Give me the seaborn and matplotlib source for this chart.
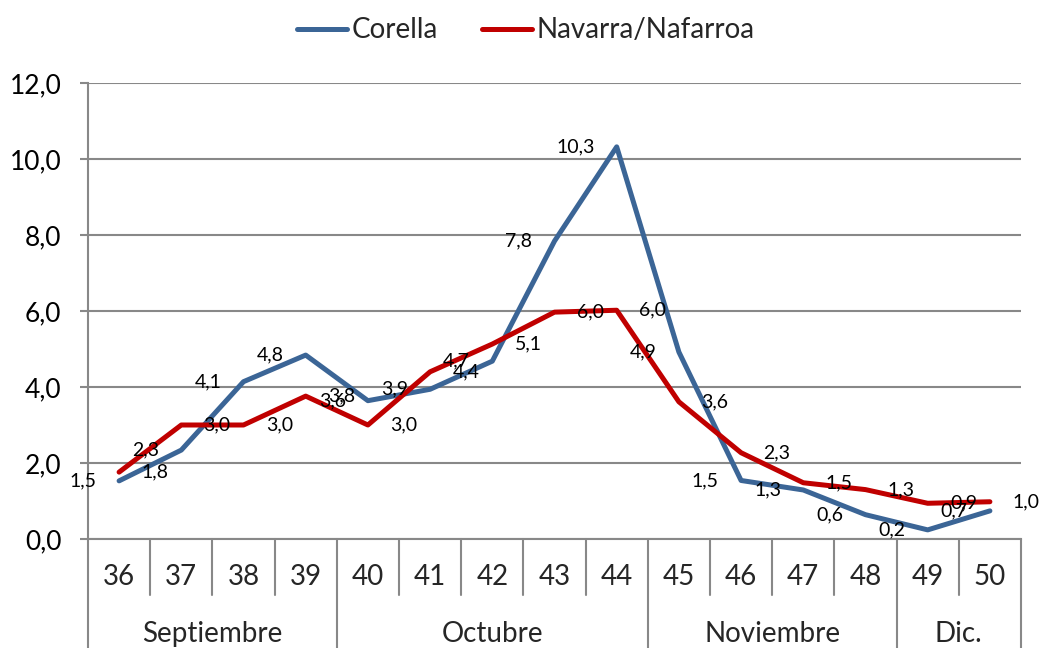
import matplotlib
matplotlib.use("Agg")
import matplotlib.pyplot as plt
import seaborn as sns
import numpy as np
from matplotlib.lines import Line2D
from matplotlib.ticker import FuncFormatter, MultipleLocator

# == DATA ==
weeks = ["36", "37", "38", "39", "40", "41", "42", "43", "44", "45", "46", "47", "48", "49", "50"]
months = ["Septiembre", "Octubre", "Noviembre", "Dic."]
month_spans = [4, 5, 4, 2]  # number of weeks in each month

corella = [1.53, 2.34, 4.14, 4.84, 3.64, 3.94, 4.68, 7.84, 10.32, 4.92, 1.54, 1.29, 0.64, 0.24, 0.74]
navarra = [1.76, 3.0, 3.0, 3.76, 3.0, 4.4, 5.13, 5.97, 6.02, 3.61, 2.27, 1.48, 1.3, 0.94, 0.98]

series_names = ["Corella", "Navarra/Nafarroa"]
BLUE = "#3B6596"
RED = "#C00000"
GRID = "#888888"

sns.set_style("white")
plt.rcParams["font.family"] = ["Lato", "DejaVu Sans"]


def fmt(v):
    return f"{v:.1f}".replace(".", ",")


x = np.arange(len(weeks))

fig = plt.figure(figsize=(10.41, 6.48), dpi=100)
ax = fig.add_axes([88 / 1041, 109 / 648, 933 / 1041, 456 / 648])

sns.lineplot(x=x, y=corella, ax=ax, color=BLUE, linewidth=3.6, label=series_names[0])
sns.lineplot(x=x, y=navarra, ax=ax, color=RED, linewidth=3.6, label=series_names[1])

# data labels: Corella to the left, Navarra to the right
for xi, v in zip(x, corella):
    ax.annotate(fmt(v), (xi, v), xytext=(-16, 0), textcoords="offset points",
                ha="right", va="center", fontsize=14, color="black")
for xi, v in zip(x, navarra):
    ax.annotate(fmt(v), (xi, v), xytext=(16, 0), textcoords="offset points",
                ha="left", va="center", fontsize=14, color="black")

# axes
ax.set_xlim(-0.5, len(weeks) - 0.5)
ax.set_ylim(0, 12)
ax.yaxis.set_major_locator(MultipleLocator(2))
ax.yaxis.set_major_formatter(FuncFormatter(lambda v, p: fmt(v)))
ax.yaxis.grid(True, color=GRID, linewidth=1.5)
ax.set_axisbelow(True)
ax.set_xticks([])
ax.tick_params(axis="y", left=True, length=6, width=1.5, color=GRID,
               labelsize=19, pad=13, labelcolor="black")
for s in ["top", "right"]:
    ax.spines[s].set_visible(False)
for s in ["left", "bottom"]:
    ax.spines[s].set_color(GRID)
    ax.spines[s].set_linewidth(1.5)

# category table under the axis
trans = ax.get_xaxis_transform()
week_bottom = -0.123
table_bottom = -0.25
for i, w in enumerate(weeks):
    ax.text(i, -0.083, w, transform=trans, ha="center", va="center", fontsize=20)

boundaries = np.cumsum([0] + month_spans) - 0.5
for i in range(1, len(weeks)):
    b = i - 0.5
    if b not in boundaries:
        ax.add_line(Line2D([b, b], [0, week_bottom], transform=trans, color=GRID,
                           linewidth=1.5, clip_on=False))
for b in boundaries:
    ax.add_line(Line2D([b, b], [0, table_bottom], transform=trans, color=GRID,
                       linewidth=1.5, clip_on=False))
for m, start, span in zip(months, boundaries[:-1], month_spans):
    ax.text(start + span / 2, -0.208, m, transform=trans, ha="center", va="center",
            fontsize=20)

# legend on top
ax.get_legend().remove()
handles = [Line2D([], [], color=BLUE, linewidth=3.6, solid_capstyle="round"),
           Line2D([], [], color=RED, linewidth=3.6, solid_capstyle="round")]
fig.legend(handles, series_names, loc="upper center", bbox_to_anchor=(0.505, 1.012),
           ncol=2, frameon=False, fontsize=20, handlelength=1.8, handletextpad=0.15,
           columnspacing=1.6)

fig.savefig("out.png", dpi=100)
